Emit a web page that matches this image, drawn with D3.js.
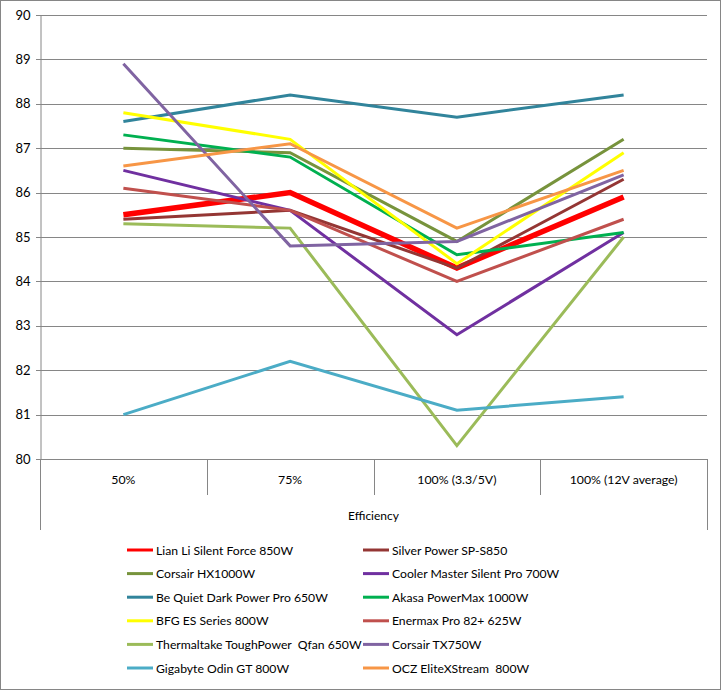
<!DOCTYPE html>
<html><head><meta charset="utf-8">
<script src="https://cdn.jsdelivr.net/npm/d3@7"></script>
<style>body{margin:0;background:#fff}svg{display:block;font-family:Lato,"Open Sans",sans-serif}</style>
</head><body>
<script>
const categories = ["50%", "75%", "100% (3.3/5V)", "100% (12V average)"];
const axisTitle = "Efficiency";
const yTicks = [80, 81, 82, 83, 84, 85, 86, 87, 88, 89, 90];
const seriesNames = [
  "Lian Li Silent Force 850W", "Silver Power SP-S850",
  "Corsair HX1000W", "Cooler Master Silent Pro 700W",
  "Be Quiet Dark Power Pro 650W", "Akasa PowerMax 1000W",
  "BFG ES Series 800W", "Enermax Pro 82+ 625W",
  "Thermaltake ToughPower  Qfan 650W", "Corsair TX750W",
  "Gigabyte Odin GT 800W", "OCZ EliteXStream  800W"
];
const lianLi      = [85.5, 86.0, 84.3, 85.9];
const silverPower = [85.4, 85.6, 84.3, 86.3];
const corsairHX   = [87.0, 86.9, 84.9, 87.2];
const coolerMaster= [86.5, 85.6, 82.8, 85.1];
const beQuiet     = [87.6, 88.2, 87.7, 88.2];
const akasa       = [87.3, 86.8, 84.6, 85.1];
const bfg         = [87.8, 87.2, 84.4, 86.9];
const enermax     = [86.1, 85.6, 84.0, 85.4];
const thermaltake = [85.3, 85.2, 80.3, 85.0];
const corsairTX   = [88.9, 84.8, 84.9, 86.4];
const gigabyte    = [81.0, 82.2, 81.1, 81.4];
const ocz         = [86.6, 87.1, 85.2, 86.5];
const seriesValues = [lianLi, silverPower, corsairHX, coolerMaster, beQuiet, akasa, bfg, enermax, thermaltake, corsairTX, gigabyte, ocz];
const colors = ["#FF0000", "#943634", "#77933C", "#7030A0", "#31849B", "#00B050", "#FFFF00", "#C0504D", "#9BBB59", "#8064A2", "#4BACC6", "#F79646"];

(function () {
const W = 722, H = 691;
const svg = d3.select("body").append("svg").attr("width", W).attr("height", H);
svg.append("rect").attr("x", 0.5).attr("y", 0.5).attr("width", W - 2).attr("height", H - 2)
  .attr("fill", "#fff").attr("stroke", "#868686");

const mL = 40, mR = 707, mT = 15, mB = 459;
const x = d3.scaleBand().domain(categories).range([mL, mR]);
const y = d3.scaleLinear().domain([80, 90]).range([mB, mT]);

// gridlines
svg.append("g").selectAll("line").data(yTicks).join("line")
  .attr("x1", mL - 4).attr("x2", mR)
  .attr("y1", d => Math.round(y(d)) + 0.5).attr("y2", d => Math.round(y(d)) + 0.5)
  .attr("stroke", "#868686").attr("stroke-width", 1);

// y axis
const yAxis = svg.append("g").attr("transform", `translate(${mL + 0.5},0)`)
  .call(d3.axisLeft(y).tickValues(yTicks).tickSize(0).tickPadding(10).tickFormat(d3.format("d")));
yAxis.select(".domain").attr("stroke", "#868686");
yAxis.selectAll("text").attr("font-size", 13).attr("fill", "#000").attr("font-family", "Lato");

// x category axis: separators
const seps = [mL, ...categories.map(c => x(c) + x.bandwidth())];
svg.append("g").selectAll("line").data(seps).join("line")
  .attr("x1", d => Math.round(d) + 0.5).attr("x2", d => Math.round(d) + 0.5)
  .attr("y1", mB).attr("y2", (d, i) => (i === 0 || i === seps.length - 1) ? 530 : 495)
  .attr("stroke", "#868686");
svg.append("g").selectAll("text").data(categories).join("text")
  .attr("x", d => x(d) + x.bandwidth() / 2).attr("y", 484)
  .attr("text-anchor", "middle").attr("font-size", 12.3).text(d => d);
svg.append("text").attr("x", (mL + mR) / 2).attr("y", 520).attr("text-anchor", "middle")
  .attr("font-size", 12).text(axisTitle);

// lines
const line = d3.line().x((d, i) => x(categories[i]) + x.bandwidth() / 2).y(d => y(d));
svg.append("g").selectAll("path").data(seriesValues).join("path")
  .attr("d", d => line(d)).attr("fill", "none")
  .attr("stroke", (d, i) => colors[i])
  .attr("stroke-width", (d, i) => i === 0 ? 5.5 : 3)
  .attr("stroke-linejoin", "miter");

// legend
const lg = svg.append("g").selectAll("g").data(seriesNames).join("g")
  .attr("transform", (d, i) => `translate(${i % 2 === 0 ? 127 : 363},${550 + Math.floor(i / 2) * 23.6})`);
lg.append("line").attr("x1", 0).attr("x2", 26).attr("y1", 0).attr("y2", 0)
  .attr("stroke", (d, i) => colors[i]).attr("stroke-width", 3);
lg.append("text").attr("x", 29).attr("y", 4.5).attr("font-size", 12.2).attr("xml:space", "preserve").text(d => d);
})();
</script>
</body></html>
